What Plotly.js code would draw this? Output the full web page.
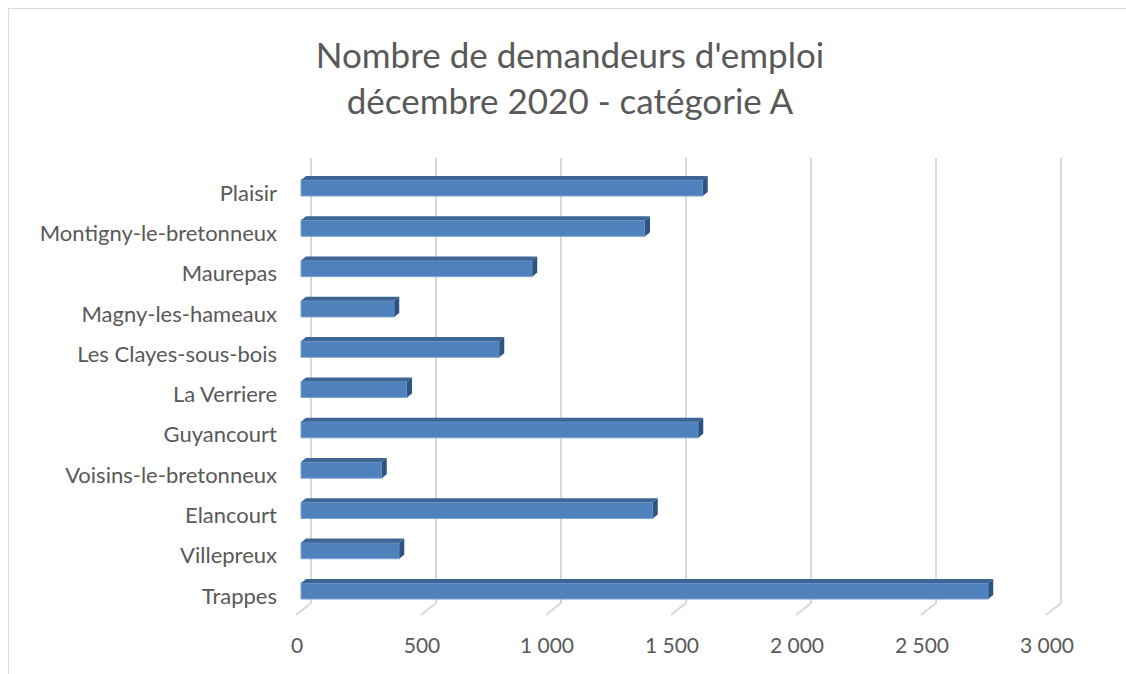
<!DOCTYPE html>
<html>
<head>
<meta charset="utf-8">
<script src="https://cdn.plot.ly/plotly-3.0.1.min.js"></script>
<style>
  html, body { margin: 0; padding: 0; background: #ffffff; }
  #wrap { position: relative; width: 1126px; height: 674px; overflow: hidden; }
  #chart { position: absolute; left: 0; top: 0; width: 1126px; height: 674px; }
  #frame { position: absolute; left: 8px; top: 8px; width: 1200px; height: 800px; border: 1px solid #d9d9d9; pointer-events: none; }
</style>
</head>
<body>
<div id="wrap">
  <div id="chart"></div>
  <div id="frame"></div>
</div>
<script>
// Categories listed from bottom to top (as drawn)
const communes = [
  'Trappes', 'Villepreux', 'Elancourt', 'Voisins-le-bretonneux', 'Guyancourt',
  'La Verriere', 'Les Clayes-sous-bois', 'Magny-les-hameaux', 'Maurepas',
  'Montigny-le-bretonneux', 'Plaisir'
];
const demandeurs = [2749, 393, 1407, 323, 1589, 424, 793, 373, 925, 1376, 1607];

const tickVals = [0, 500, 1000, 1500, 2000, 2500, 3000];
const tickText = ['0', '500', '1 000', '1 500', '2 000', '2 500', '3 000'];

const titleText = "Nombre de demandeurs d'emploi<br>décembre 2020 - catégorie A";

// styling / 3D depth (not data)
const BAR_W = 0.4;
const DX = 20;    // depth offset along value axis (data units ~5px)
const DY = 0.1;   // depth offset along category axis (~4px)
const FRONT = '#4F81BD';
const TOP = '#3D6595';
const SIDE = '#2F5481';
const FONT = 'Lato, "Open Sans", sans-serif';
const TXT = '#595959';

const idx = communes.map((_, i) => i);

// top and side faces of 3D bars, derived from the data
const topX = [], topY = [], sideX = [], sideY = [];
demandeurs.forEach((v, i) => {
  const yt = i + BAR_W / 2, yb = i - BAR_W / 2;
  topX.push(0, v, v + DX, DX, 0, null);
  topY.push(yt, yt, yt + DY, yt + DY, yt, null);
  sideX.push(v, v, v + DX, v + DX, v, null);
  sideY.push(yb, yt, yt + DY, yb + DY, yb, null);
});

const traces = [
  {
    type: 'bar', orientation: 'h', y: idx, x: demandeurs, width: BAR_W,
    marker: { color: FRONT, line: { color: '#7FA3D1', width: 1 } },
    hoverinfo: 'x+text', text: communes, textposition: 'none'
  },
  {
    type: 'scatter', mode: 'lines', x: topX, y: topY, fill: 'toself',
    fillcolor: TOP, line: { width: 0, color: TOP }, hoverinfo: 'skip', connectgaps: false
  },
  {
    type: 'scatter', mode: 'lines', x: sideX, y: sideY, fill: 'toself',
    fillcolor: SIDE, line: { width: 0, color: SIDE }, hoverinfo: 'skip', connectgaps: false
  }
];

// back-wall gridlines with floor ticks, anchored at tick values
const shapes = tickVals.map(v => ({
  type: 'path', layer: 'below',
  xref: 'x', xsizemode: 'pixel', xanchor: v,
  yref: 'paper',
  path: 'M 10,1 L 10,0.026 L -5,0',
  line: { color: '#d9d9d9', width: 2 }
}));

const layout = {
  width: 1126, height: 674,
  paper_bgcolor: 'rgba(0,0,0,0)', plot_bgcolor: 'rgba(0,0,0,0)',
  margin: { l: 281, r: 45, t: 158, b: 59, pad: 0 },
  showlegend: false,
  bargap: 0,
  title: {
    text: titleText,
    font: { family: FONT, size: 35, color: TXT },
    x: 570 / 1126, xref: 'container', xanchor: 'center',
    y: 1 - 68 / 674, yref: 'container', yanchor: 'top'
  },
  xaxis: {
    range: [-80, 3120],
    tickvals: tickVals, ticktext: tickText,
    showgrid: false, zeroline: false, showline: false, ticks: '',
    ticklabelshift: -4, ticklabelstandoff: 16,
    tickfont: { family: FONT, size: 21, color: TXT },
    fixedrange: true
  },
  yaxis: {
    range: [-0.5955, 10.744],
    tickvals: idx, ticktext: communes,
    showgrid: false, zeroline: false, showline: false, ticks: '',
    ticklabelstandoff: 3, ticklabelshift: 5,
    tickfont: { family: FONT, size: 22, color: TXT },
    fixedrange: true
  },
  shapes: shapes
};

Plotly.newPlot('chart', traces, layout, { displayModeBar: false, staticPlot: true });
</script>
</body>
</html>
